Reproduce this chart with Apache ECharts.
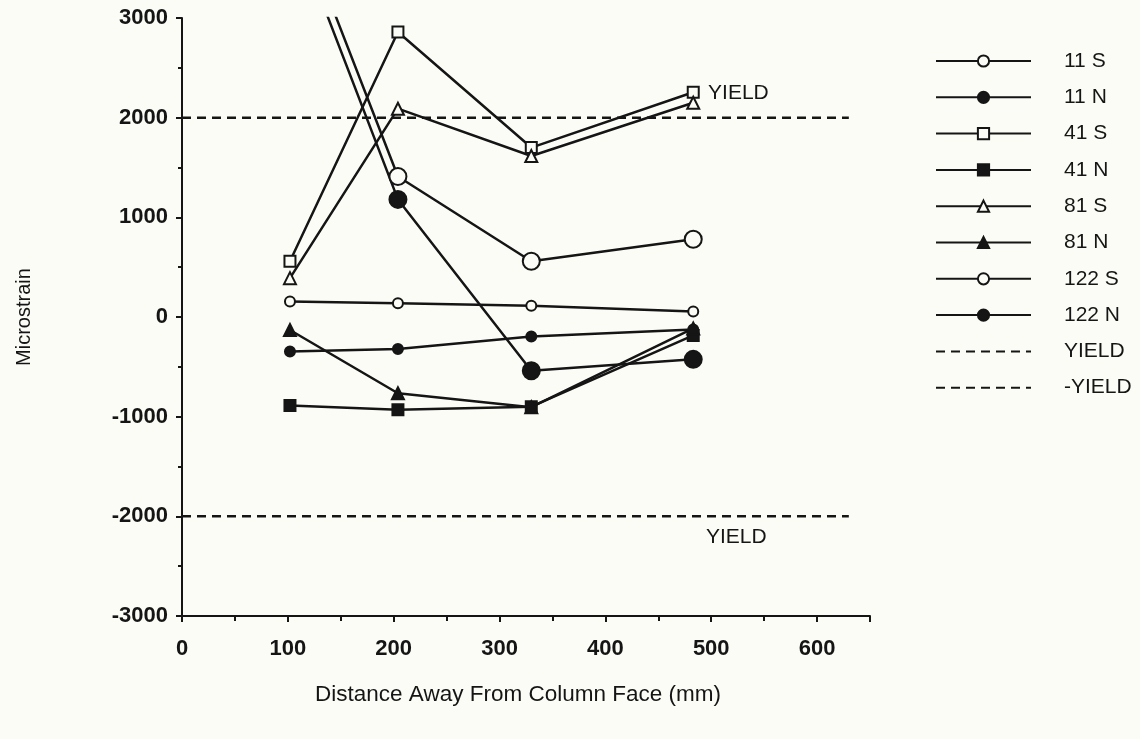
<!DOCTYPE html>
<html>
<head>
<meta charset="utf-8">
<script src="https://cdn.jsdelivr.net/npm/echarts@6/dist/echarts.min.js"></script>
<style>
html,body{margin:0;padding:0;background:#fcfcf7;}
#chart{width:1140px;height:739px;}
</style>
</head>
<body>
<div id="chart"></div>
<script>
// Data
const distances = [102, 204, 330, 483];
const s11S  = [155, 138, 112, 55];
const s11N  = [-345, -320, -195, -125];
const s41S  = [560, 2860, 1700, 2255];
const s41N  = [-888, -930, -900, -185];
const s81S  = [390, 2090, 1615, 2150];
const s81N  = [-130, -765, -905, -115];
const s122S = [4200, 1410, 560, 780];
const s122N = [4000, 1180, -540, -425];
const yieldX = [0, 630];
const yieldPos = 2000;
const yieldNeg = -2000;
const xTicks = [0, 100, 200, 300, 400, 500, 600];
const yTicks = [-3000, -2000, -1000, 0, 1000, 2000, 3000];

const BG = '#fcfcf7';
const INK = '#151515';
const FONT = 'Liberation Sans';

function pairs(vals){ return distances.map((d,i)=>[d, vals[i]]); }

function dataSeries(name, vals, symbol, size, filled){
  return {
    name: name, type: 'line', data: pairs(vals),
    symbol: symbol, symbolSize: size, showAllSymbol: true, clip: true,
    lineStyle: {color: INK, width: 2.5},
    itemStyle: {color: filled ? INK : BG, borderColor: INK, borderWidth: 2, opacity: 1},
    emphasis: {disabled: true}, z: 3
  };
}

function yieldSeries(name, yv, labelCoord){
  return {
    name: name, type: 'line', data: yieldX.map(x=>[x, yv]),
    symbol: 'none', clip: true,
    lineStyle: {color: INK, width: 2.5, type: [9, 6]},
    itemStyle: {color: INK, opacity: 0},
    emphasis: {disabled: true}, z: 2,
    markPoint: {
      symbol: 'circle', symbolSize: 0, silent: true,
      itemStyle: {opacity: 1, color: INK},
      data: [{coord: labelCoord, label: {show: true, formatter: 'YIELD', position: [0,0],
        align: 'left', verticalAlign: 'middle', color: INK, fontFamily: FONT, fontSize: 21}}]
    }
  };
}

const chart = echarts.init(document.getElementById('chart'), null, {renderer: 'canvas'});
chart.setOption({
  backgroundColor: BG,
  animation: false,
  grid: {left: 182, right: 270, top: 18, bottom: 123},
  legend: {
    orient: 'vertical', left: 935, top: 50, padding: 0,
    itemWidth: 95, itemHeight: 14, itemGap: 14.3,
    textStyle: {color: INK, fontFamily: FONT, fontSize: 21, lineHeight: 22, padding: [0,0,0,28]},
    data: ['11 S','11 N','41 S','41 N','81 S','81 N','122 S','122 N','YIELD','-YIELD'],
    selectedMode: false
  },
  xAxis: {
    type: 'value', min: 0, max: 650, interval: 100,
    name: 'Distance Away From Column Face (mm)', nameLocation: 'middle', nameGap: 67,
    nameTextStyle: {color: INK, fontFamily: FONT, fontSize: 22.5, padding: [0, 16, 0, 0]},
    axisLine: {show: true, onZero: false, lineStyle: {color: INK, width: 2}},
    axisTick: {show: true, inside: false, length: 6, lineStyle: {color: INK, width: 2}},
    minorTick: {show: true, splitNumber: 2, length: 5, lineStyle: {color: INK, width: 2}},
    splitLine: {show: false},
    axisLabel: {color: INK, fontFamily: FONT, fontSize: 22, fontWeight: 'bold', margin: 22, showMaxLabel: false,
      formatter: v => xTicks.includes(v) ? String(v) : ''}
  },
  yAxis: {
    type: 'value', min: -3000, max: 3000, interval: 1000,
    name: 'Microstrain', nameLocation: 'middle', nameGap: 148, nameRotate: 90,
    nameTextStyle: {color: INK, fontFamily: FONT, fontSize: 20},
    axisLine: {show: true, onZero: false, lineStyle: {color: INK, width: 2}},
    axisTick: {show: true, inside: false, length: 6, lineStyle: {color: INK, width: 2}},
    minorTick: {show: true, splitNumber: 2, length: 4, lineStyle: {color: INK, width: 2}},
    splitLine: {show: false},
    axisLabel: {color: INK, fontFamily: FONT, fontSize: 22, fontWeight: 'bold', margin: 14,
      formatter: v => yTicks.includes(v) ? String(v) : ''}
  },
  series: [
    dataSeries('11 S', s11S, 'circle', 10, false),
    dataSeries('11 N', s11N, 'circle', 10, true),
    dataSeries('41 S', s41S, 'rect', 11, false),
    dataSeries('41 N', s41N, 'rect', 11, true),
    dataSeries('81 S', s81S, 'triangle', 12, false),
    dataSeries('81 N', s81N, 'triangle', 12, true),
    dataSeries('122 S', s122S, 'circle', 17, false),
    dataSeries('122 N', s122N, 'circle', 17, true),
    yieldSeries('YIELD', yieldPos, [497, 2250]),
    yieldSeries('-YIELD', yieldNeg, [495, -2210])
  ]
});
</script>
</body>
</html>
